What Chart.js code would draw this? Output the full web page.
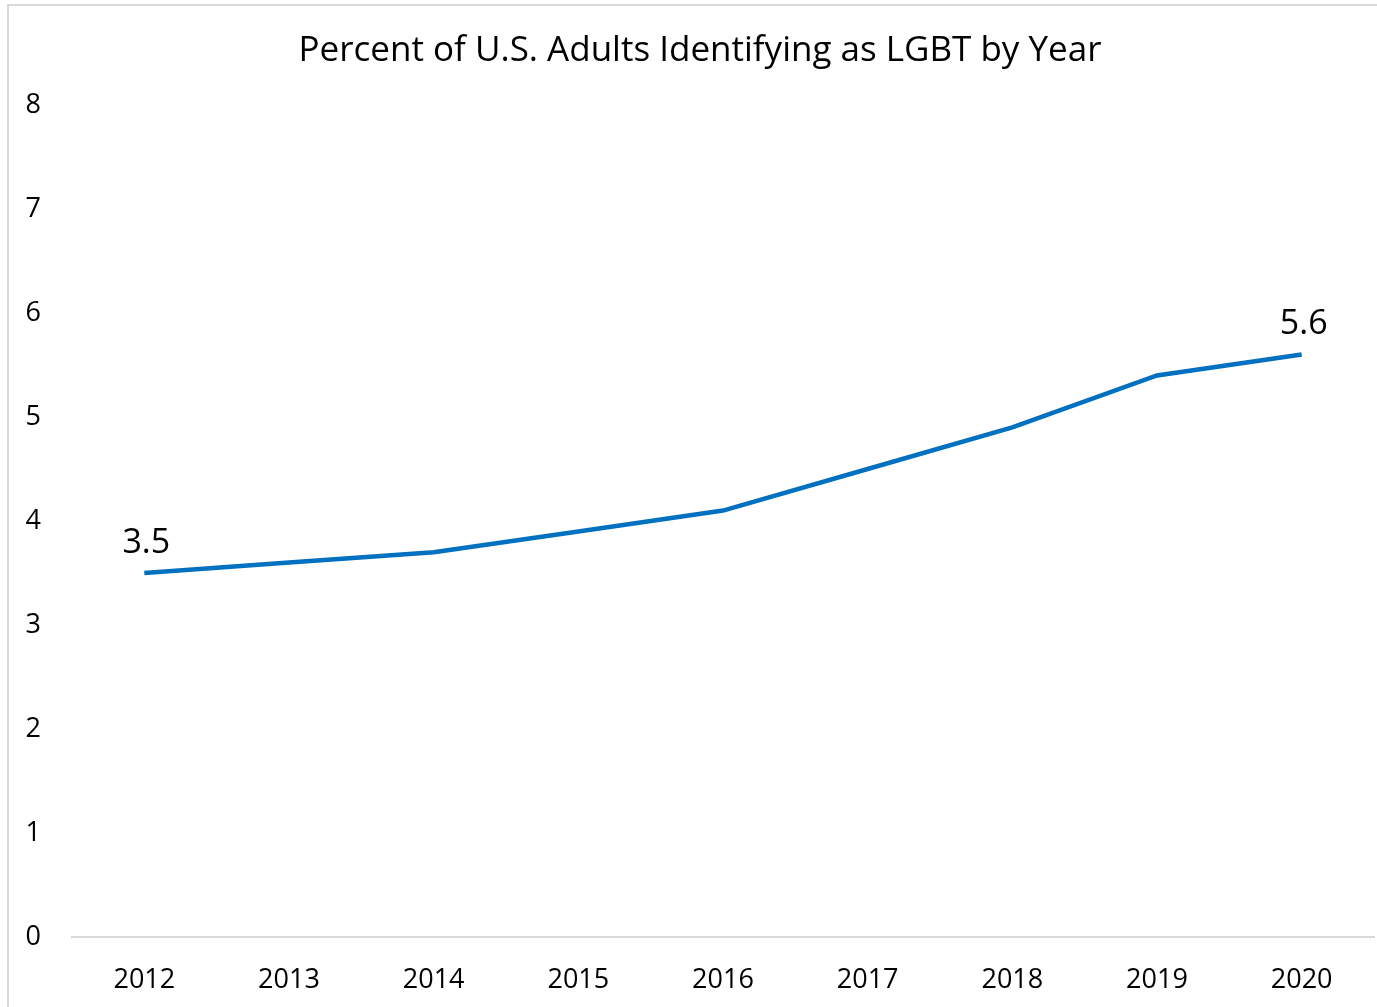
<!DOCTYPE html>
<html>
<head>
<meta charset="utf-8">
<script src="https://cdn.jsdelivr.net/npm/chart.js@4.4.1/dist/chart.umd.min.js"></script>
<style>
  html, body { margin: 0; padding: 0; background: #fff; overflow: hidden; }
  #wrap { position: absolute; left: 0; top: 0; width: 1377px; height: 1007px; }
  #frame { position: absolute; left: 7px; top: 4px; width: 1500px; height: 1100px;
           border-left: 2px solid #d9d9d9; border-top: 2px solid #d9d9d9; pointer-events: none; }
</style>
</head>
<body>
<div id="wrap"><canvas id="linechart" width="1377" height="1007"></canvas></div>
<div id="frame"></div>
<script>
// data
var years = ["2012", "2013", "2014", "2015", "2016", "2017", "2018", "2019", "2020"];
var lgbtPercent = [3.5, 3.6, 3.7, 3.9, 4.1, 4.5, 4.9, 5.4, 5.6];
var labelledPoints = [0, 8];   // only first and last point get a value label

var FONT = "'Open Sans', 'Noto Sans', sans-serif";

// draws the value above the chosen points
var pointLabels = {
	id: 'pointLabels',
	afterDatasetsDraw: function (chart) {
		var ctx = chart.ctx;
		var meta = chart.getDatasetMeta(0);
		ctx.save();
		ctx.font = "34px " + FONT;
		ctx.fillStyle = '#000';
		ctx.textAlign = 'center';
		ctx.textBaseline = 'middle';
		labelledPoints.forEach(function (i) {
			var pt = meta.data[i];
			ctx.fillText(lgbtPercent[i].toFixed(1), pt.x + 2, pt.y - 30);
		});
		ctx.restore();
	}
};

var ctx = document.getElementById("linechart");
var linechart = new Chart(ctx, {
	type: 'line',
	data: {
		labels: years,
		datasets: [{
			label: 'Percent LGBT',
			data: lgbtPercent,
			borderColor: '#0070C0',
			borderWidth: 4.5,
			pointRadius: 0,
			tension: 0,
			fill: false
		}]
	},
	options: {
		responsive: false,
		animation: false,
		layout: {
			padding: { left: 26, right: 3, top: 0, bottom: 0 }
		},
		plugins: {
			legend: { display: false },
			tooltip: { enabled: false },
			title: {
				display: true,
				text: 'Percent of U.S. Adults Identifying as LGBT by Year',
				color: '#000',
				font: { family: FONT, size: 35, weight: 'normal' },
				padding: { top: 30, bottom: 33 }
			}
		},
		scales: {
			x: {
				offset: true,
				grid: { display: false, drawTicks: false },
				border: { display: true, color: '#d9d9d9', width: 2 },
				ticks: {
					color: '#000',
					font: { family: FONT, size: 27 },
					padding: 27
				},
				afterFit: function (s) { s.height = 70; }
			},
			y: {
				min: 0,
				max: 8,
				grid: { display: false, drawTicks: false },
				border: { display: false },
				ticks: {
					stepSize: 1,
					color: '#000',
					font: { family: FONT, size: 27 },
					padding: 31
				},
				afterFit: function (s) { s.width = 46; }
			}
		}
	},
	plugins: [pointLabels]
});
</script>
</body>
</html>
